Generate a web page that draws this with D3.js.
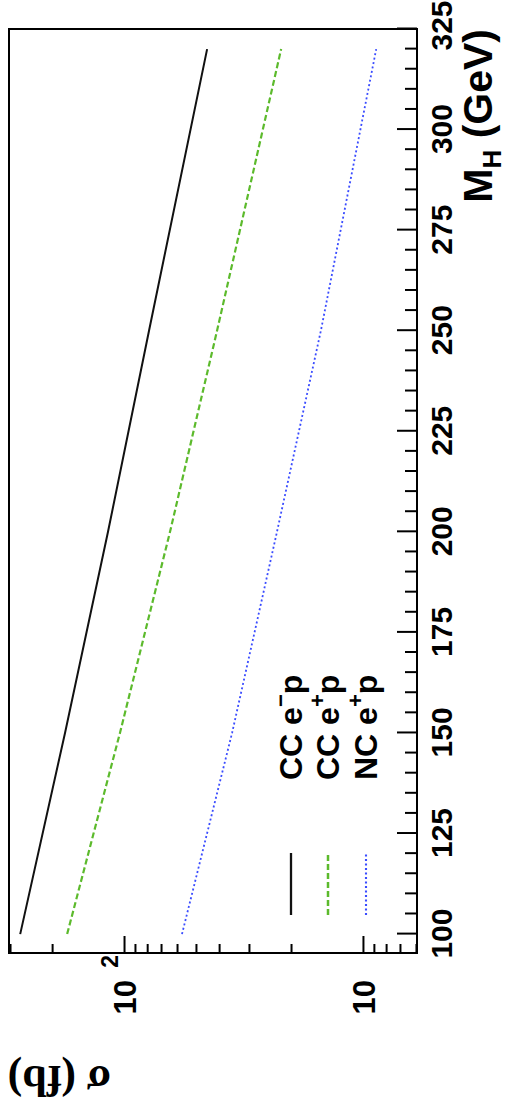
<!DOCTYPE html>
<html>
<head>
<meta charset="utf-8">
<script src="https://cdn.jsdelivr.net/npm/d3@7"></script>
<style>
  html, body { margin: 0; padding: 0; background: #fff; }
  svg { display: block; }
</style>
</head>
<body>
<svg id="chart" width="508" height="1113"></svg>
<script>
// ---- data ----
const massPoints = [100, 150, 200, 250, 320];          // M_H (GeV)
const ccEminus   = [272, 176.6, 116.7, 78.6, 44.9];    // CC e-p  sigma (fb)
const ccEplus    = [173, 104, 64.2, 40.8, 22.0];       // CC e+p  sigma (fb)
const ncEplus    = [57.2, 35.3, 22.9, 15.0, 8.8];      // NC e+p  sigma (fb)
const seriesNames = ["CC e-p", "CC e+p", "NC e+p"];
const massMajorTicks = [100, 125, 150, 175, 200, 225, 250, 275, 300, 325];
const sigmaMajorTicks = [10, 100];

// ---- layout (original, un-rotated frame; the whole plot is then turned -90deg) ----
const W = 924, H = 408;
const svg = d3.select("#chart");
svg.append("rect").attr("width", 508).attr("height", 1113).attr("fill", "#fff");

const g = svg.append("g").attr("transform", "translate(9,953) rotate(-90)");

const x = d3.scaleLinear().domain([95.3, 325]).range([0, W]);
const y = d3.scaleLog().domain([5.94, 303]).range([H, 0]);

const fontSans = "'Liberation Sans', Arial, Helvetica, sans-serif";

// x axis (M_H)
const xMinor = d3.range(100, 326, 5);
const xAxis = d3.axisBottom(x).tickValues(xMinor).tickSize(0)
  .tickFormat(d => massMajorTicks.includes(d) ? String(d) : "");
const gx = g.append("g").attr("transform", `translate(0,${H})`).call(xAxis);
gx.select(".domain").remove();
gx.attr("font-size", 30).attr("font-family", fontSans).attr("font-weight", "bold");
gx.selectAll(".tick line")
  .attr("stroke", "#000").attr("stroke-width", 2)
  .attr("y2", d => massMajorTicks.includes(d) ? -20 : -12);
gx.selectAll(".tick text").attr("y", 35).attr("dy", null).attr("fill", "#000")
  .attr("x", d => d === 325 ? 3 : 0);

// y axis (sigma, log)
const yTicks = y.ticks();
const isMajor = d => sigmaMajorTicks.some(m => Math.abs(m - d) < 1e-9);
const yAxis = d3.axisLeft(y).tickValues(yTicks).tickSize(0)
  .tickFormat(d => isMajor(d) ? "10" : "");
const gy = g.append("g").call(yAxis);
gy.select(".domain").remove();
gy.attr("font-size", 31).attr("font-family", fontSans).attr("font-weight", "bold");
gy.selectAll(".tick line")
  .attr("stroke", "#000").attr("stroke-width", 2)
  .attr("x2", d => isMajor(d) ? 17 : 9);
gy.selectAll(".tick text").attr("x", -27).attr("dy", "0.36em").attr("fill", "#000");
gy.selectAll(".tick").filter(d => Math.abs(d - 100) < 1e-9)
  .append("text")
  .attr("x", -2).attr("y", -7)
  .attr("text-anchor", "end")
  .attr("font-size", 23)
  .attr("fill", "#000")
  .text("2");

// frame
g.append("rect").attr("x", 0).attr("y", 0).attr("width", W).attr("height", H)
  .attr("fill", "none").attr("stroke", "#000").attr("stroke-width", 2);

// curves
const styles = [
  { color: "#111111", width: 2, dash: null },
  { color: "#5cba2c", width: 2.2, dash: "6,3" },
  { color: "#3a4cff", width: 1.8, dash: "2,2.5" }
];
const allSeries = [ccEminus, ccEplus, ncEplus];
const line = d3.line().x(d => x(d[0])).y(d => y(d[1]));
allSeries.forEach((vals, i) => {
  const pts = massPoints.map((m, k) => [m, vals[k]]);
  g.append("path").datum(pts)
    .attr("d", line)
    .attr("fill", "none")
    .attr("stroke", styles[i].color)
    .attr("stroke-width", styles[i].width)
    .attr("stroke-dasharray", styles[i].dash);
});

// legend
const legV = [282, 319, 357];
const legG = g.append("g").attr("font-family", fontSans).attr("font-weight", "bold").attr("font-size", 32);
seriesNames.forEach((name, i) => {
  legG.append("line")
    .attr("x1", 38).attr("x2", 100).attr("y1", legV[i]).attr("y2", legV[i])
    .attr("stroke", styles[i].color).attr("stroke-width", styles[i].width + 0.3)
    .attr("stroke-dasharray", styles[i].dash);
  const parts = name.split(" ");           // e.g. ["CC","e-p"]
  const sign = parts[1].charAt(1) === "-" ? "\u2212" : "+";
  const t = legG.append("text").attr("x", 173).attr("y", legV[i] + 11).attr("fill", "#000");
  t.append("tspan").text(parts[0] + " e");
  t.append("tspan").attr("font-size", 22).attr("dy", -14).text(sign);
  t.append("tspan").attr("dy", 14).text("p");
});

// x title  M_H (GeV)
const xt = g.append("text")
  .attr("x", W).attr("y", 483)
  .attr("text-anchor", "end")
  .attr("font-family", fontSans).attr("font-weight", "bold").attr("font-size", 41)
  .attr("fill", "#000");
xt.append("tspan").text("M");
xt.append("tspan").attr("font-size", 26).attr("dy", 9).text("H");
xt.append("tspan").attr("dy", -9).text(" (GeV)");

// y title  sigma (fb)
svg.append("text")
  .attr("transform", "translate(111,1066) rotate(180)")
  .attr("font-family", "'Liberation Serif', 'Times New Roman', serif")
  .attr("font-weight", "bold").attr("font-size", 44)
  .attr("fill", "#000")
  .text("\u03c3 (fb)");
</script>
</body>
</html>
